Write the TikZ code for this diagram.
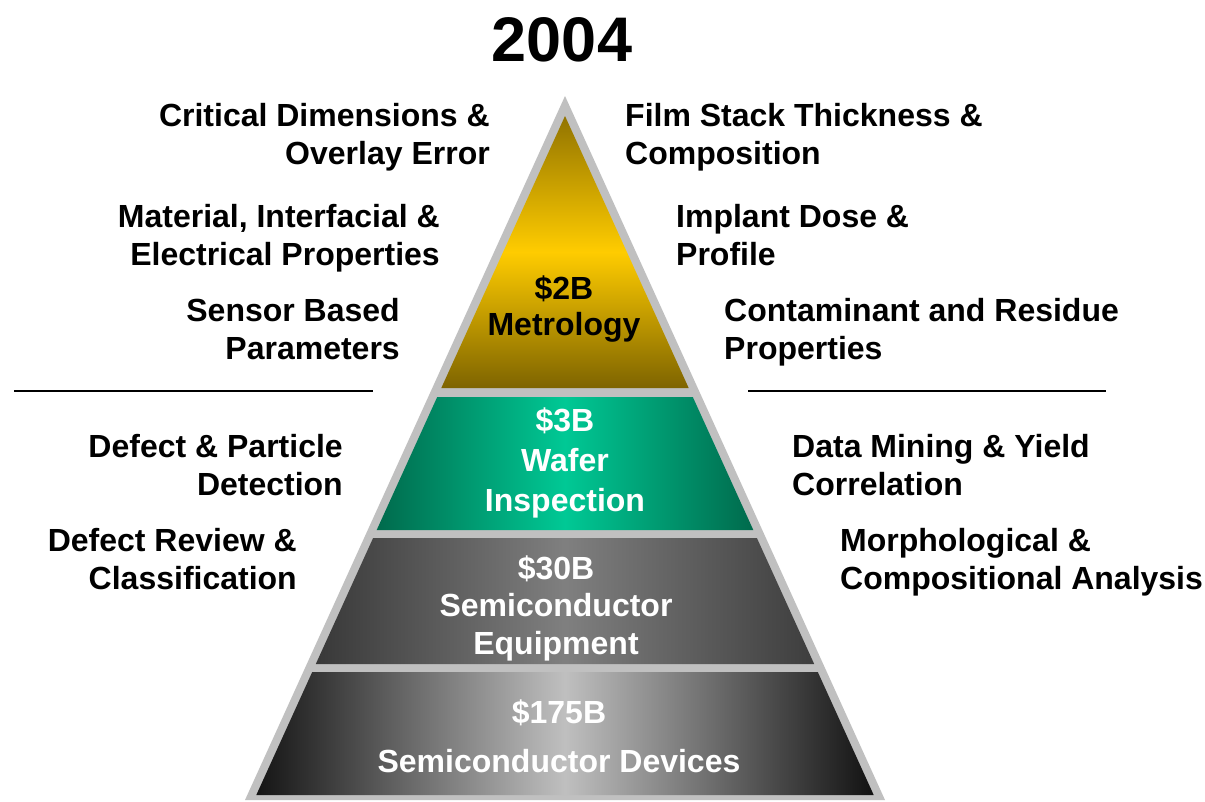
\documentclass[tikz,border=0pt]{standalone}
\usepackage{fontspec}
\setmainfont{Liberation Sans}
\definecolor{rim}{HTML}{C0C0C0}
\definecolor{golddark}{HTML}{7E6400}
\definecolor{goldlite}{HTML}{FFCC00}
\definecolor{greendark}{HTML}{006A4C}
\definecolor{greenlite}{HTML}{00C995}
\begin{document}
\begin{tikzpicture}[x=1pt, y=-1pt, line join=round, line cap=round,
	txt/.style={inner sep=0pt, font=\fontsize{32}{37.5}\selectfont\bfseries,
		execute at begin node=\strut, execute at end node=\strut},
	lft/.style={txt, align=right, anchor=east},
	rgt/.style={txt, align=left, anchor=west},
	tier/.style={txt, align=center, white}]
	\useasboundingbox (0,0) rectangle (1205,801);
	
	% Grey frame of the pyramid
	\fill[rim] (565,96) -- (885,800) -- (245,800) -- cycle;
	
	% The four tiers
	\shade[top color=golddark!85!goldlite, bottom color=golddark, middle color=goldlite]
		(565,116) -- (688.7,388) -- (441.3,388) -- cycle;
	\shade[left color=greendark, right color=greendark, middle color=greenlite]
		(437.2,397) -- (692.8,397) -- (753.3,530) -- (376.7,530) -- cycle;
	\shade[left color=black!78, right color=black!76, middle color=black!50]
		(373.1,538) -- (756.9,538) -- (814.2,664) -- (315.8,664) -- cycle;
	\shade[left color=black!92, right color=black!93, middle color=black!25]
		(312.2,672) -- (817.8,672) -- (873.7,795) -- (256.3,795) -- cycle;
	
	% Tier texts
	\node[tier, black, font=\fontsize{32}{36}\selectfont\bfseries] (metro) at (564,311) {\$2B\\Metrology};
	\node[tier, font=\fontsize{32}{40}\selectfont\bfseries] (wafer) at (565,465.5) {\$3B\\Wafer\\Inspection};
	\node[tier] (equip) at (556,610.5) {\$30B\\Semiconductor\\Equipment};
	\node[tier, font=\fontsize{32}{49}\selectfont\bfseries] (devices) at (559,743.5) {\$175B\\Semiconductor Devices};
	
	% Title
	\node[inner sep=0pt, anchor=base, font=\fontsize{63}{70}\selectfont\bfseries] (year) at (562,61) {2004};
	
	% Labels on the left
	\node[lft] (cd) at (490,139.7) {Critical Dimensions \&\\Overlay Error};
	\node[lft] (mat) at (440,240.7) {Material, Interfacial \&\\Electrical Properties};
	\node[lft] (sens) at (400,334.7) {Sensor Based\\Parameters};
	\node[lft] (defp) at (343,470.7) {Defect \& Particle\\Detection};
	\node[lft] (defr) at (297,564.7) {Defect Review \&\\Classification};
	
	% Labels on the right
	\node[rgt] (film) at (625,139.7) {Film Stack Thickness \&\\Composition};
	\node[rgt] (impl) at (676,240.7) {Implant Dose \&\\Profile};
	\node[rgt] (cont) at (724,334.7) {Contaminant and Residue\\Properties};
	\node[rgt] (mine) at (792,470.7) {Data Mining \& Yield\\Correlation};
	\node[rgt] (morph) at (840,564.7) {Morphological \&\\Compositional Analysis};
	
	% Dividing rules
	\coordinate (ruleLa) at (14,391);
	\coordinate (ruleLb) at (373,391);
	\coordinate (ruleRa) at (748,391);
	\coordinate (ruleRb) at (1106,391);
	\draw[line width=2pt, line cap=butt] (ruleLa) -- (ruleLb);
	\draw[line width=2pt, line cap=butt] (ruleRa) -- (ruleRb);
\end{tikzpicture}
\end{document}
